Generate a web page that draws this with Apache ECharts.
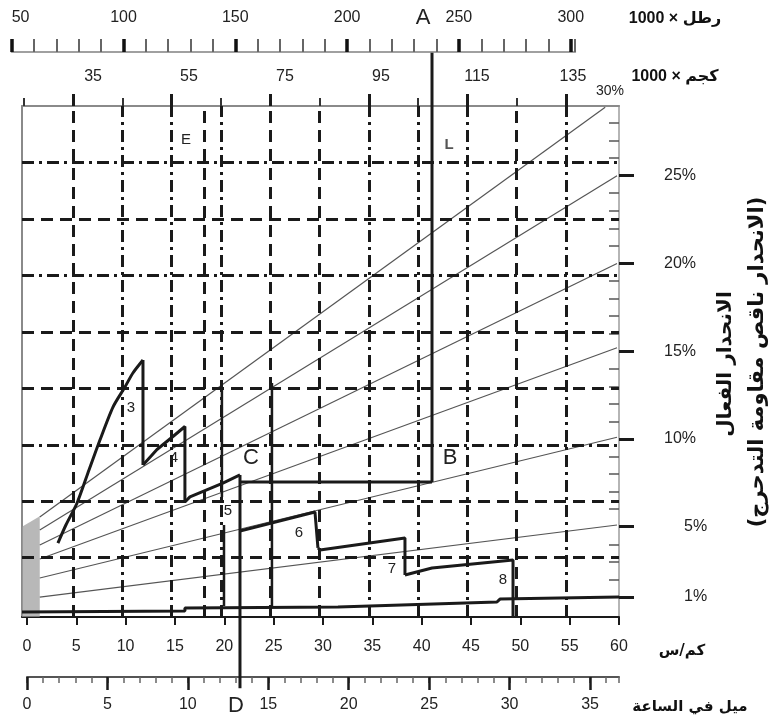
<!DOCTYPE html>
<html><head><meta charset="utf-8">
<script src="https://cdn.jsdelivr.net/npm/echarts@6/dist/echarts.min.js"></script>
<style>html,body{margin:0;padding:0;background:#fff}#c{width:775px;height:719px}</style>
</head><body><div id="c"></div>
<script>
// ---------------- data ----------------
const kmhTicks = [0,5,10,15,20,25,30,35,40,45,50,55,60];
const mphMajor = [0,5,10,15,20,25,30,35];
const lbMajor = [50,100,150,200,250,300];
const kgMajor = [35,55,75,95,115,135];
const kgMinor = [25,45,65,85,105,125];
const kgLabels = [35,55,75,95,115,135];
const gradeTicks = [1,5,10,15,20,25];
const gradeMinor = [2,3,4,6,7,8,9,11,12,13,14,16,17,18,19,21,22,23,24,26,27,28];
const vGridKg = [35,45,55,65,75,85,95,105,115,125,135];
const vGridKgStyle = ['dashed','dashdot','dashdot','dashdot','dashed','dashed','dashdot','dashdot','dashdot','dashed','dashdot'];
const vGridKmhExtra = [18];
const hGridLevels = [1,2,3,4,5,6,7,8];
const hGridStyle = ['dashed','dashed','dashdot','dashed','dashed','dashdot','dashed','dashdot'];

// effective-grade lines [km/h, %]
const grade30 = [[1.3,5.56],[58.6,28.9]];
const grade25 = [[1.3,4.82],[59.8,25.0]];
const grade20 = [[1.3,3.96],[59.8,20.0]];
const grade15 = [[1.3,3.16],[59.8,15.2]];
const grade10 = [[1.3,2.08],[59.8,10.1]];
const grade05 = [[1.3,0.99],[59.8,5.1]];
const hatch = [[-0.5,5.0],[1.3,5.6]];

// gear performance curves [km/h, %]
const gear3 = [[3.14,4.07],[3.95,5.10],[5.07,6.34],[6.18,8.06],[7.40,9.94],[8.72,11.82],[9.93,12.96],[10.74,13.76],[11.76,14.50],[11.76,8.52]];
const gear4 = [[11.76,8.52],[13.18,9.40],[14.80,10.14],[16.01,10.71],[16.01,6.41]];
const gear5 = [[16.01,6.41],[16.52,6.70],[19.86,7.49],[21.59,7.95]];
const gear6 = [[21.59,4.76],[29.19,5.84],[29.49,3.79]];
const gear7 = [[29.49,3.79],[29.70,3.68],[38.31,4.36],[38.31,2.25]];
const gear8 = [[38.31,2.25],[41.05,2.65],[49.26,3.11],[49.26,-0.14]];
const rolling = [[-0.5,0.14],[16.01,0.20],[16.01,0.37],[31.52,0.43],[31.52,0.54],[47.63,0.71],[47.94,0.88],[60,1.0]];
const lineAB = [[41.05,32.0],[41.05,7.55]];
const lineCB = [[21.59,7.55],[41.05,7.55]];
const lineCD = [[21.59,7.95],[21.59,-4.2]];
const vert1 = [[19.76,12.96],[19.76,6.70]];
const vert2 = [[19.97,5.10],[19.97,0.48]];
const vert3 = [[24.83,13.19],[24.83,0.43]];

const annoText = ['E','L','3','4','5','6','7','8','C','B'];
const annoPos = [[16.11,27.04],[42.77,26.75],[10.54,11.77],[14.90,8.92],[20.37,5.90],[27.57,4.64],[36.99,2.59],[48.24,1.97],[22.70,8.92],[42.87,8.92]];

// ---------------- chart ----------------
const FONT = "'Liberation Sans','DejaVu Sans',Arial,sans-serif";
const AR = "'DejaVu Sans','Noto Sans',sans-serif";
const INK = '#1a1a1a';
const dashes = {dashed:[12,7], dashdot:[12,5,3,5]};
const YMIN = -0.142, YMAX = 28.97;
const noLine = {show:false, onZero:false};

function thick(name, data, extra) {
  return Object.assign({name, type:'line', data, xAxisIndex:0, yAxisIndex:0, showSymbol:false, symbol:'none',
    lineStyle:{color:INK, width:3}, z:5, silent:true}, extra||{});
}
function thin(name, data) {
  return {name, type:'line', data, xAxisIndex:0, yAxisIndex:0, showSymbol:false, symbol:'none',
    lineStyle:{color:'#555', width:1.2}, z:3, silent:true};
}

const annoData = annoPos.map((p,i)=>{
  const t = annoText[i];
  const big = (t === 'C' || t === 'B');
  return {value:p, name:t, label:{fontSize: big ? 22 : 15, fontWeight: t === 'L' ? 'bold' : 'normal', color: t === 'L' ? '#555' : '#222'}};
});

const option = {
  animation:false,
  backgroundColor:'#fff',
  grid:[
    {left:22, top:106, width:597, height:511, containLabel:false},
    {left:11.7, top:52, width:563.5, height:1, containLabel:false},
    {left:27, top:676, width:592, height:1, containLabel:false}
  ],
  xAxis:[
    {gridIndex:0, type:'value', position:'bottom', min:-0.5, max:60,
      axisLine:{show:true, onZero:false, lineStyle:{color:INK, width:2}},
      axisTick:{show:true, customValues:kmhTicks, length:8, lineStyle:{color:INK, width:2}},
      axisLabel:{show:true, customValues:kmhTicks, margin:22, fontSize:16, color:'#222', fontFamily:FONT},
      splitLine:{show:false}},
    {gridIndex:0, type:'value', position:'top', min:24.66, max:145.75,
      axisLine:{show:true, onZero:false, lineStyle:{color:'#8a8a8a', width:2}},
      axisTick:{show:true, customValues:kgMajor, length:12, lineStyle:{color:INK, width:3}},
      axisLabel:{show:false}, splitLine:{show:false}},
    {gridIndex:0, type:'value', position:'top', min:24.66, max:145.75,
      axisLine:noLine,
      axisTick:{show:true, customValues:kgMinor, length:8, lineStyle:{color:'#333', width:2}},
      axisLabel:{show:false}, splitLine:{show:false}},
    {gridIndex:0, type:'value', position:'top', min:20.2, max:144.6,
      axisLine:noLine, axisTick:{show:false},
      axisLabel:{show:true, customValues:kgLabels, margin:21, fontSize:16, color:'#222', fontFamily:FONT},
      splitLine:{show:false}},
    {gridIndex:1, type:'value', position:'top', min:50, max:302, interval:10,
      axisLine:{show:true, onZero:false, lineStyle:{color:'#a0a0a0', width:2}},
      axisTick:{show:true, length:13, lineStyle:{color:'#666', width:2}},
      axisLabel:{show:false}, splitLine:{show:false}},
    {gridIndex:1, type:'value', position:'top', min:50, max:302,
      axisLine:noLine,
      axisTick:{show:true, customValues:lbMajor, length:13, lineStyle:{color:'#111', width:3.5}},
      axisLabel:{show:true, customValues:lbMajor, margin:26, fontSize:16, color:'#222', fontFamily:FONT, alignMinLabel:'left'},
      splitLine:{show:false}},
    {gridIndex:2, type:'value', position:'bottom', min:0, max:36.8, interval:1,
      axisLine:{show:true, onZero:false, lineStyle:{color:'#555', width:2}},
      axisTick:{show:true, length:6, lineStyle:{color:'#666', width:1.5}},
      axisLabel:{show:false}, splitLine:{show:false}},
    {gridIndex:2, type:'value', position:'bottom', min:0, max:36.8,
      axisLine:noLine,
      axisTick:{show:true, customValues:mphMajor, length:13, lineStyle:{color:INK, width:2.5}},
      axisLabel:{show:true, customValues:mphMajor, margin:20, fontSize:16, color:'#222', fontFamily:FONT},
      splitLine:{show:false}}
  ],
  yAxis:[
    {gridIndex:0, type:'value', position:'right', min:YMIN, max:YMAX,
      axisLine:{show:true, onZero:false, lineStyle:{color:'#b5b5b5', width:2}},
      axisTick:{show:true, customValues:gradeTicks, length:15, lineStyle:{color:INK, width:3}},
      axisLabel:{show:true, customValues:gradeTicks, margin:45, fontSize:16, color:'#222', fontFamily:FONT,
        formatter:v => v < 10 ? '{s|' + v + '%}' : v + '%',
        rich:{s:{padding:[0,0,0,20], fontSize:16, color:'#222', fontFamily:FONT}}},
      splitLine:{show:false}},
    {gridIndex:0, type:'value', position:'right', min:YMIN, max:YMAX,
      axisLine:noLine,
      axisTick:{show:true, inside:true, customValues:gradeMinor, length:10, lineStyle:{color:'#555', width:1.5}},
      axisLabel:{show:false}, splitLine:{show:false}},
    {gridIndex:0, type:'value', position:'left', min:-0.05, max:9,
      axisLine:{show:true, onZero:false, lineStyle:{color:'#8a8a8a', width:2}},
      axisTick:{show:false}, axisLabel:{show:false}, splitLine:{show:false}},
    {gridIndex:1, type:'value', show:false, min:0, max:1},
    {gridIndex:2, type:'value', show:false, min:0, max:1}
  ],
  series:[
    {name:'hgrid', type:'line', xAxisIndex:0, yAxisIndex:2, data:[], z:1, silent:true,
      markLine:{silent:true, symbol:['none','none'], label:{show:false}, animation:false,
        data:hGridLevels.map((v,i)=>({yAxis:v, lineStyle:{color:INK, width:3, type:dashes[hGridStyle[i]]}}))}},
    {name:'vgrid', type:'line', xAxisIndex:1, yAxisIndex:0, data:[], z:1, silent:true,
      markLine:{silent:true, symbol:['none','none'], label:{show:false}, animation:false,
        data:vGridKg.map((v,i)=>({xAxis:v, lineStyle:{color:INK, width:3, type:dashes[vGridKgStyle[i]]}}))}},
    {name:'vgrid2', type:'line', xAxisIndex:0, yAxisIndex:0, data:[], z:1, silent:true,
      markLine:{silent:true, symbol:['none','none'], label:{show:false}, animation:false,
        data:vGridKmhExtra.map(v=>({xAxis:v, lineStyle:{color:INK, width:3, type:dashes.dashed}}))}},
    {name:'hatch', type:'line', data:hatch, xAxisIndex:0, yAxisIndex:0, showSymbol:false, symbol:'none',
      lineStyle:{width:0}, areaStyle:{color:'#9a9a9a', opacity:0.7, origin:'start'}, z:2, silent:true},
    thin('g30', grade30), thin('g25', grade25), thin('g20', grade20),
    thin('g15', grade15), thin('g10', grade10), thin('g05', grade05),
    thick('gear3rise', gear3.slice(0,9), {smooth:0.25}),
    thick('gear3drop', gear3.slice(8)),
    thick('gear4', gear4), thick('gear5', gear5),
    thick('gear6', gear6), thick('gear7', gear7), thick('gear8', gear8),
    thick('rolling', rolling),
    thick('AB', lineAB, {clip:false}), thick('CB', lineCB), thick('CD', lineCD, {clip:false}),
    thick('v1', vert1, {lineStyle:{color:INK, width:2.5}}),
    thick('v2', vert2, {lineStyle:{color:INK, width:2.5}}),
    thick('v3', vert3, {lineStyle:{color:INK, width:2.5}}),
    {name:'anno', type:'scatter', xAxisIndex:0, yAxisIndex:0, symbol:'circle', symbolSize:2, z:6, silent:true,
      data:annoData,
      itemStyle:{color:'rgba(0,0,0,0)'},
      label:{show:true, position:'inside', opacity:1, formatter:p=>p.name, fontFamily:FONT, color:'#222'}}
  ],
  graphic:[
    {type:'text', x:423, y:18, style:{text:'A', font:'22px '+FONT, fill:'#222', align:'center', verticalAlign:'middle'}, z:10},
    {type:'text', x:236, y:706, style:{text:'D', font:'22px '+FONT, fill:'#222', align:'center', verticalAlign:'middle'}, z:10},
    {type:'text', x:610, y:91, style:{text:'30%', font:'14px '+FONT, fill:'#222', align:'center', verticalAlign:'middle'}, z:10},
    {type:'text', x:675, y:19, style:{text:'1000 × رطل', font:'bold 16px '+FONT, fill:'#111', align:'center', verticalAlign:'middle'}, z:10},
    {type:'text', x:675, y:77, style:{text:'1000 × كجم', font:'bold 16px '+FONT, fill:'#111', align:'center', verticalAlign:'middle'}, z:10},
    {type:'text', x:682, y:651, style:{text:'كم/س', font:'bold 15px '+AR, fill:'#111', align:'center', verticalAlign:'middle'}, z:10},
    {type:'text', x:690, y:707, style:{text:'ميل في الساعة', font:'bold 15px '+AR, fill:'#111', align:'center', verticalAlign:'middle'}, z:10},
    {type:'text', x:726, y:364, rotation:Math.PI/2, style:{text:'الانحدار الفعال', font:'bold 20px '+AR, fill:'#111', align:'center', verticalAlign:'middle'}, z:10},
    {type:'text', x:758, y:362, rotation:Math.PI/2, style:{text:'(الانحدار ناقص مقاومة التدحرج)', font:'bold 21px '+AR, fill:'#111', align:'center', verticalAlign:'middle'}, z:10}
  ]
};
const chart = echarts.init(document.getElementById('c'), null, {renderer:'canvas'});
chart.setOption(option);
</script></body></html>
